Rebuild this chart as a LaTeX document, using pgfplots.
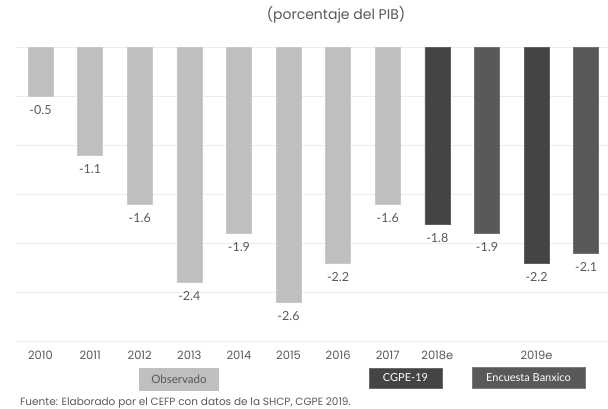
\documentclass[border=0pt]{standalone}
\usepackage{pgfplots}
\pgfplotsset{compat=1.18}
\usepackage{pgfplotstable}
\usepackage{fontspec}
\setmainfont{Lato}
\newfontfamily\gothic{Poppins}
\definecolor{lightbar}{HTML}{BFBFBF}
\definecolor{darkbar}{HTML}{444444}
\definecolor{midbar}{HTML}{595959}
\definecolor{gridc}{HTML}{EDEDED}
\definecolor{txt}{HTML}{595959}
\pgfplotstableread{
x y lab
0 -0.5 -0.5
1 -1.1 -1.1
2 -1.6 -1.6
3 -2.4 -2.4
4 -1.9 -1.9
5 -2.6 -2.6
6 -2.2 -2.2
7 -1.6 -1.6
}\observado
\pgfplotstableread{
x y lab
8 -1.8 -1.8
10 -2.2 -2.2
}\cgpe
\pgfplotstableread{
x y lab
9 -1.9 -1.9
11 -2.1 -2.1
}\banxico
\begin{document}
\begin{tikzpicture}
\useasboundingbox (0pt,0pt) rectangle (608pt,408pt);
\begin{axis}[
  at={(16pt,66.5pt)}, anchor=south west,
  scale only axis, width=592pt, height=294pt,
  xmin=-0.494, xmax=11.44, ymin=-3, ymax=0,
  axis line style={draw=none},
  ytick={-3,-2.5,...,0}, yticklabels={},
  ymajorgrids, grid style={gridc, line width=0.8pt},
  major tick length=0pt,
  xtick={0,1,2,3,4,5,6,7,8,10},
  xticklabels={2010,2011,2012,2013,2014,2015,2016,2017,2018e,2019e},
  xticklabel style={font=\gothic\fontsize{11.5}{13}\selectfont, text=txt, yshift=-6pt},
  ybar, bar width=25pt, bar shift=0pt,
  point meta=explicit symbolic,
  nodes near coords,
  every node near coord/.append style={anchor=north, yshift=-5.5pt, font=\fontsize{12.5}{14}\selectfont, text=txt},
  clip=false,
]
\addplot[fill=lightbar, draw=lightbar!85!white, line width=0.6pt] table[x=x,y=y,meta=lab]{\observado};
\addplot[fill=darkbar, draw=darkbar!85!white, line width=0.6pt] table[x=x,y=y,meta=lab]{\cgpe};
\addplot[fill=midbar, draw=midbar!85!white, line width=0.6pt] table[x=x,y=y,meta=lab]{\banxico};
\end{axis}
\node[font=\gothic\fontsize{14}{16}\selectfont, text=txt] at (336pt,393pt) {(porcentaje del PIB)};
\node[fill=lightbar, minimum width=80pt, minimum height=23pt, inner sep=0pt, text=midbar, font=\fontsize{11.5}{13}\selectfont] at (179pt,28.5pt) {Observado};
\node[fill=darkbar, draw=darkbar!80!white, minimum width=73pt, minimum height=20pt, inner sep=0pt, text=white, font=\fontsize{11}{13}\selectfont] at (405.5pt,30pt) {CGPE-19};
\node[fill=midbar, draw=midbar!80!white, minimum width=113pt, minimum height=21pt, inner sep=0pt, text=white, font=\fontsize{11}{13}\selectfont] at (528.5pt,30.5pt) {Encuesta Banxico};
\node[anchor=base west, font=\gothic\fontsize{10.5}{12}\selectfont, text=txt, inner sep=0pt] at (20pt,3pt) {Fuente: Elaborado por el CEFP con datos de la SHCP, CGPE 2019.};
\end{tikzpicture}
\end{document}
